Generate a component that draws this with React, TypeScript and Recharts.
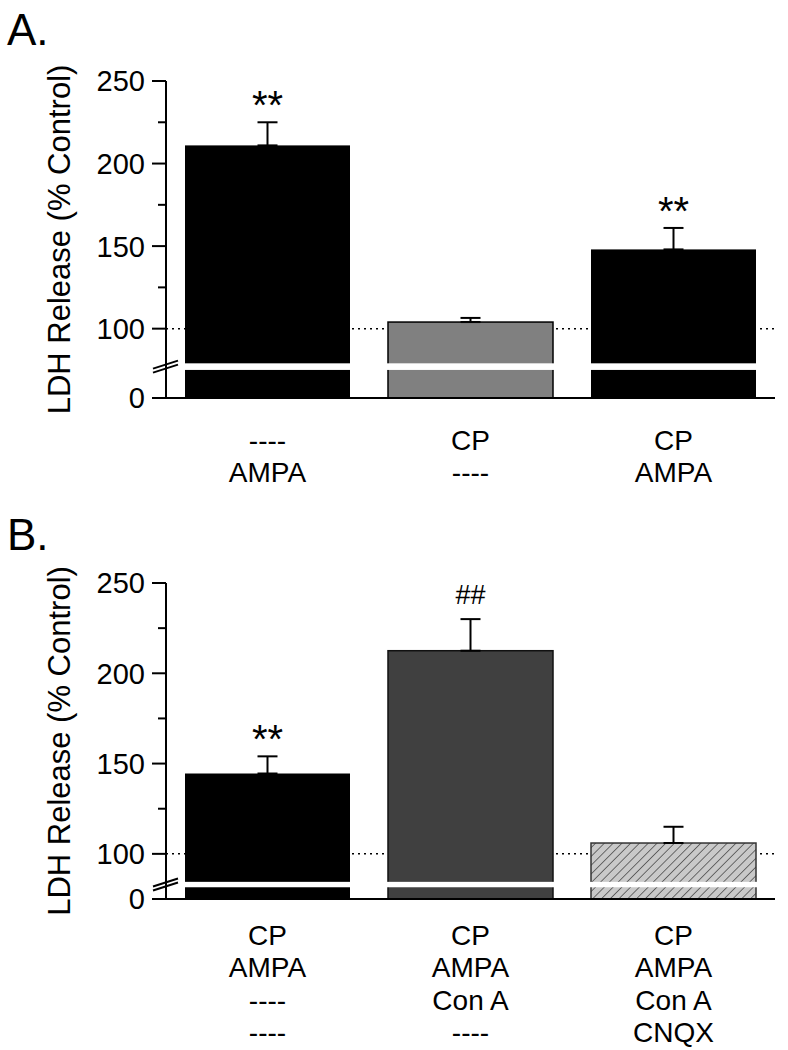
import React from 'react';
import {
  ComposedChart,
  Bar,
  Cell,
  XAxis,
  YAxis,
  ErrorBar,
  ReferenceLine,
  Scatter,
} from 'recharts';

const FONT = '"Liberation Sans", Arial, Helvetica, sans-serif';

// ---------- Panel A data ----------
const catsA = ['A1', 'A2', 'A3'];
const cpRowA = ['----', 'CP', 'CP'];
const ampaRowA = ['AMPA', '----', 'AMPA'];
const meanA = [211, 104, 148];
const semA = [14, 2.5, 13];
const sigA = ['**', '', '**'];
const fillA = ['#000000', '#808080', '#000000'];
const strokeA = ['none', '#000000', 'none'];

// ---------- Panel B data ----------
const catsB = ['B1', 'B2', 'B3'];
const cpRowB = ['CP', 'CP', 'CP'];
const ampaRowB = ['AMPA', 'AMPA', 'AMPA'];
const conARowB = ['----', 'Con A', 'Con A'];
const cnqxRowB = ['----', '----', 'CNQX'];
const meanB = [144.5, 212.5, 106];
const semB = [9.5, 17.5, 9];
const sigB = ['**', '##', ''];
const fillB = ['#000000', '#404040', 'url(#hatchB)'];
const strokeB = ['none', '#111111', '#333333'];

// ---------- Axis ----------
const yMajorTicks = [100, 150, 200, 250];
const yMinorTicks = [125, 175, 225];
const yTop = 250;
const controlLevel = 100;
// broken axis: the bottom of the axis (labelled "0") sits at these values
const baseA = 58;
const gapA = [75, 79];
const baseB = 75;
const gapB = [81.5, 84.5];

const TICK_SIZE = 14;
const TICK_MARGIN = 7;

function buildData(cats: string[], mean: number[], sem: number[], sig: string[]) {
  return cats.map((name, i) => ({
    name,
    mean: mean[i],
    err: [0, sem[i]],
    errTop: mean[i] + sem[i],
    sig: sig[i],
  }));
}

const dataA = buildData(catsA, meanA, semA, sigA);
const dataB = buildData(catsB, meanB, semB, sigB);

function makeYTick(base: number, gap: number[]) {
  const breakMid = (gap[0] + gap[1]) / 2;
  return (props: any) => {
    const { x, y, payload } = props;
    const ax = x + TICK_SIZE + TICK_MARGIN;
    const v = payload.value;
    if (v === breakMid) {
      return (
        <g>
          <line x1={ax - 13} y1={y + 2} x2={ax + 12} y2={y - 6} stroke="#000" strokeWidth={2} />
          <line x1={ax - 13} y1={y + 6} x2={ax + 12} y2={y - 2} stroke="#000" strokeWidth={2} />
        </g>
      );
    }
    const minor = yMinorTicks.includes(v);
    const len = minor ? 8 : TICK_SIZE;
    return (
      <g>
        <line x1={ax - len} y1={y} x2={ax} y2={y} stroke="#000" strokeWidth={2} />
        {!minor && (
          <text
            x={x}
            y={y}
            dy="0.36em"
            textAnchor="end"
            fontSize={29}
            fontFamily={FONT}
            fill="#000"
          >
            {v === base ? '0' : String(v)}
          </text>
        )}
      </g>
    );
  };
}

function makeXTick(rows: string[][], firstOffset: number, lineGap: number) {
  return (props: any) => {
    const { x, y, index } = props;
    return (
      <g>
        {rows.map((row, k) => (
          <text
            key={k}
            x={x}
            y={y + firstOffset + k * lineGap}
            textAnchor="middle"
            fontSize={28}
            fontFamily={FONT}
            fill="#000"
          >
            {row[index]}
          </text>
        ))}
      </g>
    );
  };
}

function makeBarShape(base: number, gap: number[], fills: string[], strokes: string[]) {
  return (props: any) => {
    const { x, y, width, height, payload, index } = props;
    const bottom = y + height;
    const pxPerUnit = height / (payload.mean - base);
    const gTop = bottom - (gap[1] - base) * pxPerUnit;
    const gBot = bottom - (gap[0] - base) * pxPerUnit;
    const st = strokes[index];
    return (
      <g>
        <rect
          x={x}
          y={y}
          width={width}
          height={height}
          fill={fills[index]}
          stroke={st}
          strokeWidth={st === 'none' ? 0 : 1.5}
        />
        <rect x={x - 1} y={gTop} width={width + 2} height={gBot - gTop} fill="#ffffff" />
      </g>
    );
  };
}

const sigShape = (props: any) => {
  const { cx, cy, payload } = props;
  if (!payload || !payload.sig) return <g />;
  const isHash = payload.sig.startsWith('#');
  return (
    <text
      x={cx}
      y={isHash ? cy - 15 : cy - 3}
      textAnchor="middle"
      fontSize={isHash ? 27 : 40}
      fontFamily={FONT}
      fill="#000"
    >
      {payload.sig}
    </text>
  );
};

const yLabel = (props: any) => {
  const vb = props.viewBox || {};
  const cx = (vb.x || 0) + 59;
  const cy = (vb.y || 0) + (vb.height || 0) / 2;
  return (
    <text
      x={cx}
      y={cy}
      transform={`rotate(-90, ${cx}, ${cy})`}
      textAnchor="middle"
      dominantBaseline="central"
      fontSize={31}
      fontFamily={FONT}
      fill="#000"
    >
      LDH Release (% Control)
    </text>
  );
};

function Panel(props: {
  data: any[];
  base: number;
  gap: number[];
  fills: string[];
  strokes: string[];
  rows: string[][];
  height: number;
  top: number;
  bottom: number;
  xAxisHeight: number;
  firstOffset: number;
  lineGap: number;
}) {
  const { data, base, gap, fills, strokes, rows, height, top, bottom, xAxisHeight, firstOffset, lineGap } = props;
  const ticks = [base, (gap[0] + gap[1]) / 2, ...yMajorTicks, ...yMinorTicks].sort((a, b) => a - b);
  return (
    <ComposedChart
      width={788}
      height={height}
      data={data}
      margin={{ top, right: 13, bottom, left: 0 }}
    >
      <defs>
        <pattern
          id="hatchB"
          patternUnits="userSpaceOnUse"
          width={6.2}
          height={6.2}
          patternTransform="rotate(45)"
        >
          <rect width={6.2} height={6.2} fill="#c9c9c9" />
          <line x1={0} y1={0} x2={0} y2={6.2} stroke="#333" strokeWidth={1.3} />
        </pattern>
      </defs>
      <ReferenceLine
        y={controlLevel}
        stroke="#000"
        strokeWidth={1.5}
        strokeDasharray="2 4"
        zIndex={50}
      />
      <XAxis
        dataKey="name"
        type="category"
        height={xAxisHeight}
        axisLine={{ stroke: '#000', strokeWidth: 2 }}
        tickLine={false}
        tickSize={0}
        tickMargin={0}
        interval={0}
        tick={makeXTick(rows, firstOffset, lineGap)}
      />
      <YAxis
        type="number"
        domain={[base, yTop]}
        ticks={ticks}
        interval={0}
        allowDataOverflow
        width={166}
        axisLine={{ stroke: '#000', strokeWidth: 2 }}
        tickLine={false}
        tickSize={TICK_SIZE}
        tickMargin={TICK_MARGIN}
        tick={makeYTick(base, gap)}
        label={{ content: yLabel }}
      />
      <Bar
        dataKey="mean"
        barSize={165}
        isAnimationActive={false}
        shape={makeBarShape(base, gap, fills, strokes)}
      >
        {data.map((d, i) => (
          <Cell key={i} fill={fills[i]} />
        ))}
        <ErrorBar dataKey="err" width={10} stroke="#000" strokeWidth={2} direction="y" />
      </Bar>
      <Scatter dataKey="errTop" isAnimationActive={false} shape={sigShape} />
    </ComposedChart>
  );
}

export default function App() {
  return (
    <div
      style={{
        position: 'absolute',
        left: 0,
        top: 0,
        width: 788,
        height: 1050,
        background: '#fff',
        fontFamily: FONT,
      }}
    >
      <div style={{ position: 'absolute', left: 0, top: 0 }}>
        <Panel
          data={dataA}
          base={baseA}
          gap={gapA}
          fills={fillA}
          strokes={strokeA}
          rows={[cpRowA, ampaRowA]}
          height={500}
          top={81}
          bottom={2}
          xAxisHeight={100}
          firstOffset={52}
          lineGap={32.3}
        />
      </div>
      <div style={{ position: 'absolute', left: 0, top: 500 }}>
        <Panel
          data={dataB}
          base={baseB}
          gap={gapB}
          fills={fillB}
          strokes={strokeB}
          rows={[cpRowB, ampaRowB, conARowB, cnqxRowB]}
          height={550}
          top={83}
          bottom={11}
          xAxisHeight={140}
          firstOffset={46}
          lineGap={32.3}
        />
      </div>
      <div
        style={{
          position: 'absolute',
          left: 7,
          top: 8,
          fontSize: 44,
          lineHeight: '44px',
          fontFamily: FONT,
          color: '#000',
        }}
      >
        A.
      </div>
      <div
        style={{
          position: 'absolute',
          left: 7,
          top: 513,
          fontSize: 44,
          lineHeight: '44px',
          fontFamily: FONT,
          color: '#000',
        }}
      >
        B.
      </div>
    </div>
  );
}
